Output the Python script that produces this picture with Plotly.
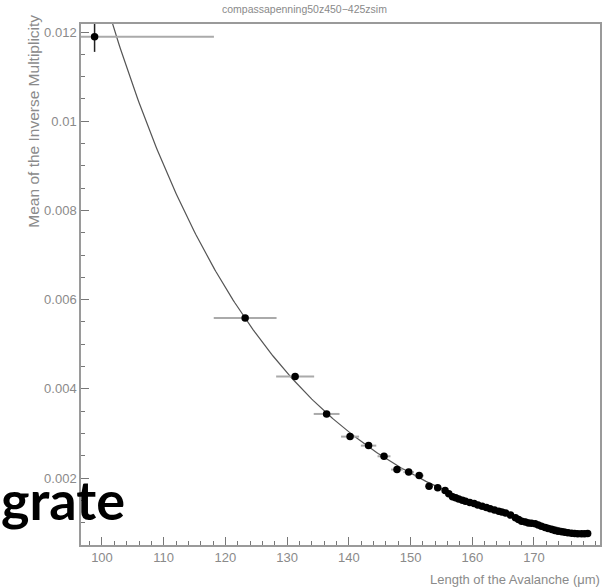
import math
import plotly.graph_objects as go

# ---- data ----
x_vals = [98.8, 123.2, 131.3, 136.4, 140.2, 143.2, 145.7, 147.8, 149.7, 151.4,
          153.0, 154.4, 155.6, 156.2, 156.8, 157.3, 157.8, 158.4, 158.9, 159.6,
          160.3, 160.9, 161.6, 162.3, 162.9, 163.6, 164.3, 164.8, 165.4, 166.2,
          167.0, 167.5, 168.0, 168.6, 169.1, 169.6, 170.2, 170.7, 171.2, 171.8,
          172.3, 172.9, 173.4, 173.9, 174.5, 175.0, 175.5, 176.1, 176.6, 177.1,
          177.7, 178.2, 178.7]
y_vals = [0.011895, 0.005588, 0.004280, 0.003438, 0.002930, 0.002728, 0.002489, 0.002191,
          0.002134, 0.002056, 0.001817, 0.001781, 0.001720, 0.001650, 0.001579, 0.001560,
          0.001534, 0.001505, 0.001480, 0.001455, 0.001429, 0.001398, 0.001369, 0.001340,
          0.001310, 0.001283, 0.001257, 0.001240, 0.001220, 0.001170, 0.001112, 0.001070,
          0.001033, 0.001015, 0.000996, 0.000985, 0.000974, 0.000950, 0.000921, 0.000895,
          0.000869, 0.000846, 0.000824, 0.000810, 0.000795, 0.000784, 0.000773, 0.000765,
          0.000757, 0.000752, 0.000750, 0.000752, 0.000757]
x_err = [19.34, 5.09, 3.08, 2.09, 1.46, 1.25, 1.05, 0.95, 0.85, 0.75, 0.6, 0.6] + [0.3] * 41
y_err = [0.00034] + [0.00005] * 52

# exponential fit drawn in the reference
FIT_A = 0.4886
FIT_B = 0.0363
FIT_X = [100 + 0.25 * i for i in range(316)]

x_ticks = [100, 110, 120, 130, 140, 150, 160, 170]
y_ticks = [0.002, 0.004, 0.006, 0.008, 0.010, 0.012]
y_tick_text = ["0.002", "0.004", "0.006", "0.008", "0.01", "0.012"]

title_text = "compassapenning50z450\u2212425zsim"
x_title = "Length of the Avalanche (\u03bcm)"
y_title = "Mean of the Inverse Multiplicity"
overlay_text = "grate"

fit_y = [FIT_A * math.exp(-FIT_B * xv) for xv in FIT_X]

W, H = 608, 587
ML, MR, MT, MB = 81, 6, 24, 42
PW, PH = W - ML - MR, H - MT - MB


def px(x):
    return (x - ML) / PW


def py(y):
    return (H - MB - y) / PH


fig = go.Figure()
fig.add_trace(go.Scatter(x=FIT_X, y=fit_y, mode="lines",
                         line=dict(color="#555555", width=1.2), hoverinfo="skip"))
fig.add_trace(go.Scatter(
    x=x_vals, y=y_vals, mode="markers",
    marker=dict(color="black", size=7.5),
    error_x=dict(type="data", array=x_err, color="#aaaaaa", thickness=2, width=0),
    error_y=dict(type="data", array=y_err, color="#222222", thickness=1.5, width=0),
))

axis_common = dict(showline=True, linecolor="#9a9a9a", linewidth=1.5, mirror=True,
                   ticks="inside", tickcolor="#777777", ticklen=8, tickwidth=1,
                   showgrid=False, zeroline=False,
                   tickfont=dict(family="Liberation Sans, Arial", size=13, color="#8a8a8a"))

fig.update_layout(
    width=W, height=H, margin=dict(l=ML, r=MR, t=MT, b=MB),
    paper_bgcolor="white", plot_bgcolor="white", showlegend=False,
    xaxis=dict(range=[96.6, 180.7], tickvals=x_ticks,
               minor=dict(dtick=2, ticks="inside", ticklen=4, tickcolor="#777777"),
               **axis_common),
    yaxis=dict(range=[0.0005, 0.01218], tickvals=y_ticks, ticktext=y_tick_text,
               minor=dict(dtick=0.0005, ticks="inside", ticklen=4, tickcolor="#777777"),
               **axis_common),
)

fig.add_annotation(text=title_text, xref="paper", yref="paper", x=px(305), y=py(9),
                   showarrow=False, xanchor="center", yanchor="middle",
                   font=dict(family="Liberation Sans, Arial", size=10.5, color="#8a8a8a"))
fig.add_annotation(text=x_title, xref="paper", yref="paper", x=px(604), y=py(579),
                   showarrow=False, xanchor="right", yanchor="middle",
                   font=dict(family="Liberation Sans, Arial", size=13, color="#8a8a8a"))
fig.add_annotation(text=y_title, xref="paper", yref="paper", x=px(33), y=py(13),
                   showarrow=False, xanchor="center", yanchor="top", textangle=-90,
                   font=dict(family="Liberation Sans, Arial", size=15.5, color="#8a8a8a"))
fig.add_annotation(text="<b>" + overlay_text + "</b>", xref="paper", yref="paper",
                   x=px(127), y=py(499), showarrow=False, xanchor="right", yanchor="middle",
                   font=dict(family="Lato", size=54, color="black"))

fig.write_html("out.html")
